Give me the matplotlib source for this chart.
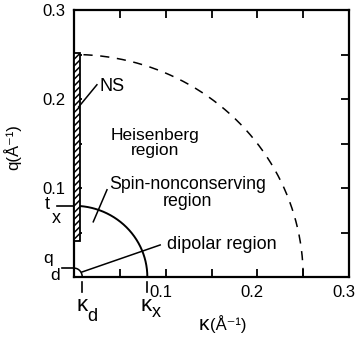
import numpy as np
import matplotlib
matplotlib.use("Agg")
import matplotlib.pyplot as plt
import matplotlib.transforms as mtransforms
from matplotlib.patches import Rectangle

plt.rcParams['font.family'] = ['Liberation Sans', 'DejaVu Sans']

# Region boundaries in (kappa, q) space, units of 1/Angstrom
r_heisenberg = 0.25      # outer dashed boundary
kappa_x = 0.08           # spin-nonconserving boundary
t_x = 0.08
kappa_d = 0.009          # dipolar boundary
q_d = 0.010
ns_kappa = 0.007         # neutron-scattering window (hatched bar)
ns_q = [0.040, 0.252]

tick_vals = [0.05, 0.10, 0.15, 0.20, 0.25, 0.30]
tick_labels = ['', '0.1', '', '0.2', '', '0.3']

fig = plt.figure(figsize=(3.57, 3.39), dpi=100)
ax = fig.add_axes([74/357, 1 - 277/339, 275/357, 267/339])
ax.set_xlim(0, 0.3)
ax.set_ylim(0, 0.3)

for s in ax.spines.values():
    s.set_linewidth(1.6)

ax.set_xticks(tick_vals)
ax.set_xticklabels(tick_labels)
ax.set_yticks(tick_vals)
ax.set_yticklabels(tick_labels)
ax.tick_params(direction='in', length=6, width=1.3, top=True, right=True,
               labelsize=12, pad=6)

# nudge the kappa-axis numbers slightly left of their ticks
shift = mtransforms.ScaledTranslation(-5/100, 0, fig.dpi_scale_trans)
for lab in ax.get_xticklabels():
    lab.set_transform(lab.get_transform() + shift)

# boundary arcs
th = np.linspace(0, np.pi / 2, 200)
ax.plot(r_heisenberg * np.cos(th), r_heisenberg * np.sin(th),
        color='black', lw=1.1, ls=(0, (6, 5)))
ax.plot(kappa_x * np.cos(th), t_x * np.sin(th), color='black', lw=1.4)
ax.plot(kappa_d * np.cos(th), q_d * np.sin(th), color='black', lw=1.1)

# NS hatched bar along the q axis
plt.rcParams['hatch.linewidth'] = 1.1
ax.add_patch(Rectangle((0, ns_q[0]), ns_kappa, ns_q[1] - ns_q[0],
                       facecolor='white', edgecolor='black', lw=1.3,
                       hatch='/////', zorder=3, clip_on=False))

# leader lines
ax.plot([0.005, 0.025], [0.191, 0.216], color='black', lw=1.1, zorder=4)
ax.plot([0.021, 0.036], [0.062, 0.098], color='black', lw=1.1)
ax.plot([0.0087, 0.094], [0.0056, 0.036], color='black', lw=1.1)

# region labels
ax.text(0.028, 0.214, 'NS', fontsize=13, ha='left', va='center')
ax.text(0.0885, 0.151, 'Heisenberg\nregion', fontsize=12.5, ha='center',
        va='center', multialignment='center', linespacing=1.0)
ax.text(0.124, 0.094, 'Spin-nonconserving\nregion', fontsize=12.8,
        ha='center', va='center', multialignment='center', linespacing=1.0)
ax.text(0.101, 0.037, 'dipolar region', fontsize=13, ha='left',
        va='center')

# outward marks for the characteristic wavevectors
ax.plot([-0.0185, 0], [t_x, t_x], color='black', lw=1.2, clip_on=False)
ax.plot([-0.013, 0], [q_d, q_d], color='black', lw=1.2, clip_on=False)
ax.plot([kappa_d, kappa_d], [-0.006, -0.017], color='black', lw=1.2,
        clip_on=False)
ax.plot([kappa_x, kappa_x], [-0.006, -0.017], color='black', lw=1.2,
        clip_on=False)

# symbols next to those marks
ax.text(-0.029, 0.082, 't', fontsize=13, ha='center', va='center')
ax.text(-0.019, 0.066, 'x', fontsize=13, ha='center', va='center')
ax.text(-0.028, 0.021, 'q', fontsize=12.5, ha='center', va='center')
ax.text(-0.021, 0.002, 'd', fontsize=12.5, ha='center', va='center')
ax.text(kappa_d - 0.0, -0.032, 'κ', fontsize=16, ha='center', va='center')
ax.text(kappa_d + 0.011, -0.044, 'd', fontsize=13, ha='center', va='center')
ax.text(kappa_x - 0.001, -0.032, 'κ', fontsize=16, ha='center', va='center')
ax.text(kappa_x + 0.010, -0.040, 'x', fontsize=13, ha='center', va='center')

# axis titles
fig.text(12/357, 1 - 147/339, 'q(Å⁻¹)', rotation=90, fontsize=12,
         ha='center', va='center')
fig.text(204/357, 1 - 330/339, 'κ', fontsize=15, ha='center',
         va='baseline')
fig.text(210/357, 1 - 330/339, '(Å⁻¹)', fontsize=12, ha='left',
         va='baseline')

fig.savefig('out.png', dpi=100)
